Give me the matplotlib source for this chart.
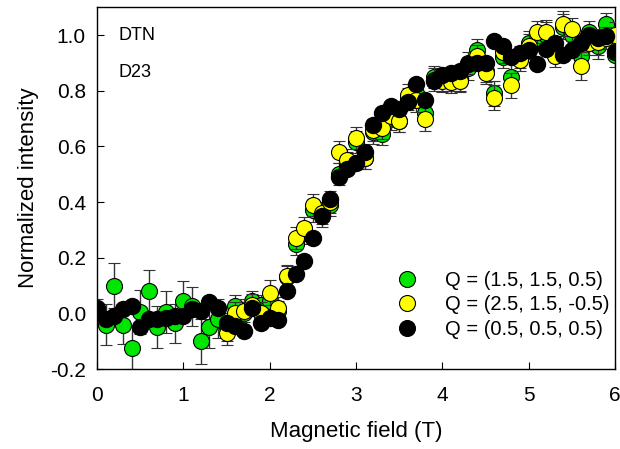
import matplotlib
matplotlib.use("Agg")
import matplotlib.pyplot as plt
from matplotlib.lines import Line2D
from matplotlib.ticker import FormatStrFormatter

plt.rcParams['font.family'] = ['Liberation Sans', 'DejaVu Sans']
plt.rcParams['axes.unicode_minus'] = False

# field values (T)
field_all = [0.0, 0.1, 0.2, 0.3, 0.4, 0.5, 0.6, 0.7, 0.8, 0.9,
             1.0, 1.1, 1.2, 1.3, 1.4, 1.5, 1.6, 1.7, 1.8, 1.9,
             2.0, 2.1, 2.2, 2.3, 2.4, 2.5, 2.6, 2.7, 2.8, 2.9,
             3.0, 3.1, 3.2, 3.3, 3.4, 3.5, 3.6, 3.7, 3.8, 3.9,
             4.0, 4.1, 4.2, 4.3, 4.4, 4.5, 4.6, 4.7, 4.8, 4.9,
             5.0, 5.1, 5.2, 5.3, 5.4, 5.5, 5.6, 5.7, 5.8, 5.9, 6.0]
field_yellow = field_all[15:]

# Q = (1.5, 1.5, 0.5)
green = [0.01, -0.04, 0.10, -0.04, -0.125, 0.005, 0.08, -0.05, 0.005, -0.035,
         0.045, 0.025, -0.10, -0.05, -0.02, -0.05, 0.025, 0.0, 0.045, 0.03,
         0.045, 0.01, 0.13, 0.25, 0.29, 0.37, 0.35, 0.39, 0.50, 0.54,
         0.615, 0.56, 0.65, 0.645, 0.70, 0.69, 0.77, 0.79, 0.72, 0.85,
         0.84, 0.84, 0.84, 0.88, 0.945, 0.87, 0.79, 0.92, 0.85, 0.92,
         0.97, 0.99, 1.0, 0.95, 1.03, 1.0, 0.925, 1.01, 0.96, 1.04, 0.93]
green_err = [0.04, 0.075, 0.08, 0.07, 0.075, 0.08, 0.075, 0.075, 0.075, 0.07,
             0.07, 0.07, 0.08, 0.075, 0.07, 0.05, 0.04, 0.04, 0.035, 0.035,
             0.04, 0.035, 0.04, 0.04, 0.04, 0.04, 0.04, 0.04, 0.04, 0.04,
             0.04, 0.04, 0.04, 0.04, 0.04, 0.04, 0.04, 0.04, 0.04, 0.04,
             0.04, 0.04, 0.04, 0.04, 0.04, 0.04, 0.045, 0.04, 0.045, 0.04,
             0.045, 0.04, 0.045, 0.04, 0.045, 0.04, 0.045, 0.04, 0.045, 0.04, 0.045]

# Q = (2.5, 1.5, -0.5)
yellow = [-0.07, 0.0, 0.01, 0.03, 0.0, 0.075, 0.02, 0.135, 0.27, 0.305,
          0.39, 0.36, 0.40, 0.58, 0.55, 0.63, 0.56, 0.66, 0.665, 0.71,
          0.69, 0.785, 0.765, 0.70, 0.84, 0.835, 0.83, 0.835, 0.90, 0.925,
          0.865, 0.775, 0.94, 0.82, 0.91, 0.96, 1.01, 1.01, 0.925, 1.04,
          1.02, 0.89, 0.97, 0.975, 0.99, 1.0]
yellow_err = [0.045, 0.04, 0.04, 0.04, 0.04, 0.045, 0.04, 0.04, 0.04, 0.04,
              0.04, 0.04, 0.04, 0.04, 0.04, 0.04, 0.04, 0.04, 0.04, 0.04,
              0.04, 0.04, 0.04, 0.045, 0.04, 0.04, 0.04, 0.04, 0.04, 0.04,
              0.04, 0.045, 0.04, 0.045, 0.04, 0.045, 0.04, 0.045, 0.04, 0.045,
              0.04, 0.05, 0.04, 0.045, 0.04, 0.045]

# Q = (0.5, 0.5, 0.5)
black = [0.02, -0.02, -0.01, 0.015, 0.025, -0.05, -0.02, -0.02, -0.015, -0.01,
         -0.01, 0.015, 0.01, 0.04, 0.02, -0.035, -0.045, -0.065, 0.02, -0.035,
         -0.015, -0.025, 0.08, 0.14, 0.19, 0.27, 0.35, 0.41, 0.49, 0.52,
         0.54, 0.58, 0.675, 0.72, 0.745, 0.735, 0.76, 0.825, 0.765, 0.835,
         0.855, 0.865, 0.87, 0.895, 0.90, 0.90, 0.98, 0.96, 0.92, 0.935,
         0.945, 0.895, 0.95, 0.97, 0.93, 0.945, 0.97, 1.0, 0.99, 0.995, 0.94]

labels = ["Q = (1.5, 1.5, 0.5)", "Q = (2.5, 1.5, -0.5)", "Q = (0.5, 0.5, 0.5)"]
colors = ["#00e600", "#ffff00", "#000000"]

fig = plt.figure(figsize=(6.2, 4.49), dpi=100)
ax = fig.add_axes([0.1565, 0.178, 0.8355, 0.806])

ms = 11.5
ax.errorbar(field_all, green, yerr=green_err, fmt='o', color=colors[0],
            mec='black', mew=0.8, ms=ms, ecolor='#333333', elinewidth=1,
            capsize=4.5, capthick=1, zorder=2)
ax.errorbar(field_yellow, yellow, yerr=yellow_err, fmt='o', color=colors[1],
            mec='black', mew=0.8, ms=ms, ecolor='#333333', elinewidth=1,
            capsize=4.5, capthick=1, zorder=3)
ax.plot(field_all, black, 'o', color=colors[2], mec='black', ms=ms, zorder=4)

ax.set_xlim(0, 6)
ax.set_ylim(-0.2, 1.1)
ax.set_xticks([0, 1, 2, 3, 4, 5, 6])
ax.set_yticks([-0.2, 0.0, 0.2, 0.4, 0.6, 0.8, 1.0])
ax.yaxis.set_major_formatter(FormatStrFormatter('%.1f'))
ax.tick_params(direction='in', length=5, labelsize=15, pad=8)
ax.tick_params(axis='x', pad=12)
for s in ax.spines.values():
    s.set_linewidth(1.0)

ax.set_xlabel("Magnetic field (T)", fontsize=16, labelpad=12)
ax.set_ylabel("Normalized intensity", fontsize=16, labelpad=8)

ax.text(0.25, 1.0, "DTN", fontsize=13, va='center', ha='left')
ax.text(0.25, 0.865, "D23", fontsize=13, va='center', ha='left')

handles = [Line2D([], [], marker='o', ls='none', color=c, mec='black',
                  mew=0.8, ms=ms) for c in colors]
ax.legend(handles, labels, loc='upper left', bbox_to_anchor=(0.56, 0.30),
          frameon=False, fontsize=14.5, handletextpad=1.35, labelspacing=0.28,
          borderpad=0, handlelength=1.0)

fig.savefig("out.png", dpi=100)
